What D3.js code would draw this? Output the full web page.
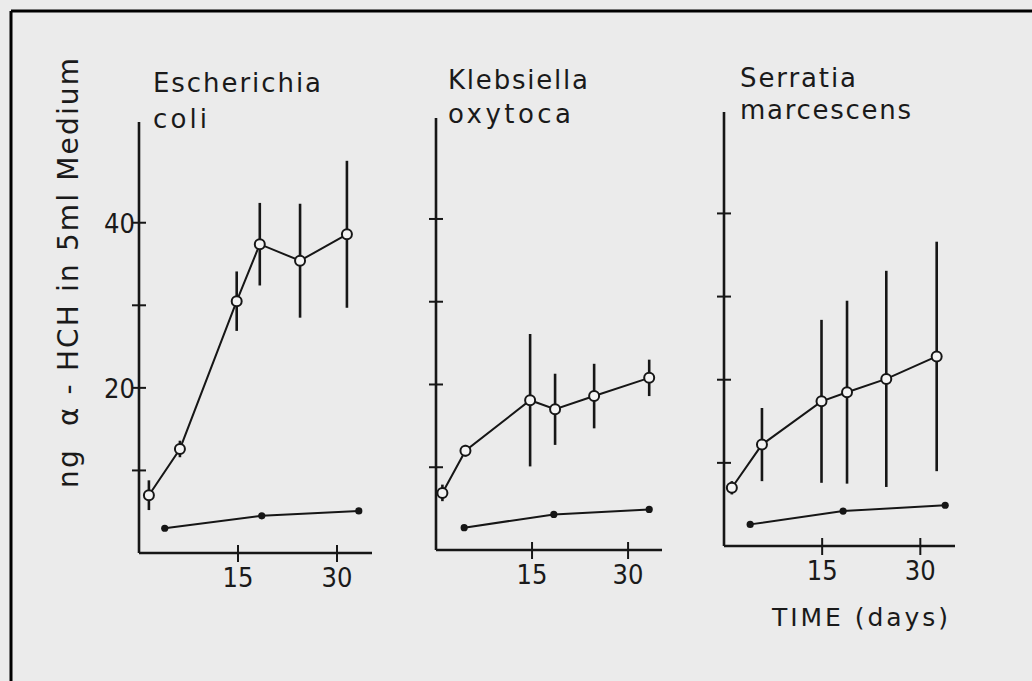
<!DOCTYPE html>
<html><head><meta charset="utf-8">
<script src="https://cdn.jsdelivr.net/npm/d3@7/dist/d3.min.js"></script>
<style>
html,body{margin:0;padding:0;background:#ebebeb;}
svg{display:block}
text{font-family:"DejaVu Sans",sans-serif;fill:#1a1a1a;}
text.num{font-family:"DejaVu Sans Condensed","DejaVu Sans",sans-serif;}
</style>
</head><body>
<svg id="c" width="1032" height="681"></svg>
<script>
// ---------- data ----------
const speciesTitles = [["Escherichia", "coli"], ["Klebsiella", "oxytoca"], ["Serratia", "marcescens"]];
const xTickValues = [15, 30];
const xTickLabels = ["15", "30"];
const yTickValues = [10, 20, 30, 40];
const yTickLabels = ["", "20", "", "40"];
const yAxisTitle = "ng  \u03b1 - HCH in 5ml Medium";
const xAxisTitle = "TIME (days)";

// Escherichia coli (open circles: inoculated, mean ± error; filled: control)
const ecoliDays = [1.5, 6.2, 14.8, 18.3, 24.4, 31.5];
const ecoliMean = [7.0, 12.6, 30.5, 37.4, 35.4, 38.6];
const ecoliErr = [1.8, 1.0, 3.6, 5.0, 6.9, 8.9];
const ecoliCtrlDays = [3.9, 18.6, 33.3];
const ecoliCtrl = [3.0, 4.5, 5.1];

// Klebsiella oxytoca
const klebDays = [1.0, 4.6, 14.7, 18.6, 24.7, 33.3];
const klebMean = [6.9, 12.0, 18.1, 17.0, 18.6, 20.8];
const klebErr = [1.0, 0.7, 8.0, 4.3, 3.9, 2.2];
const klebCtrlDays = [4.4, 18.4, 33.3];
const klebCtrl = [2.7, 4.3, 4.9];

// Serratia marcescens
const serrDays = [1.2, 5.8, 14.9, 18.8, 24.8, 32.5];
const serrMean = [7.0, 12.2, 17.4, 18.5, 20.1, 22.8];
const serrErr = [0.8, 4.4, 9.8, 11.0, 13.0, 13.8];
const serrCtrlDays = [4.0, 18.2, 33.8];
const serrCtrl = [2.6, 4.2, 4.9];

const xDomain = [0, 35.3];
const yDomain = [0, 52.2];

// ---------- layout ----------
const panels = [
  {days: ecoliDays, mean: ecoliMean, err: ecoliErr, cDays: ecoliCtrlDays, ctrl: ecoliCtrl,
   box: {left: 139, right: 372, top: 122, bottom: 553}, title: {x: 153, y: 92, y2: 128, w1: 168, w2: 54}, labels: true},
  {days: klebDays, mean: klebMean, err: klebErr, cDays: klebCtrlDays, ctrl: klebCtrl,
   box: {left: 436, right: 662, top: 118, bottom: 550}, title: {x: 448, y: 89, y2: 123, w1: 140, w2: 123}, labels: false},
  {days: serrDays, mean: serrMean, err: serrErr, cDays: serrCtrlDays, ctrl: serrCtrl,
   box: {left: 724, right: 955, top: 112, bottom: 546}, title: {x: 740, y: 87, y2: 119, w1: 116, w2: 171}, labels: false}
];

const svg = d3.select("#c");
svg.append("rect").attr("width", 1032).attr("height", 681).attr("fill", "#ebebeb");
// frame (top and left edges)
svg.append("line").attr("x1", 11).attr("x2", 1032).attr("y1", 11).attr("y2", 11).attr("stroke", "#000").attr("stroke-width", 3);
svg.append("line").attr("x1", 11).attr("x2", 11).attr("y1", 11).attr("y2", 681).attr("stroke", "#000").attr("stroke-width", 3);

const ink = "#161616";

panels.forEach((p, i) => {
  const b = p.box;
  const x = d3.scaleLinear().domain(xDomain).range([b.left, b.right]);
  const y = d3.scaleLinear().domain(yDomain).range([b.bottom, b.top]);
  const g = svg.append("g");

  // titles
  g.append("text").attr("x", p.title.x).attr("y", p.title.y).attr("font-size", 26)
    .attr("textLength", p.title.w1).attr("lengthAdjust", "spacing").text(speciesTitles[i][0]);
  g.append("text").attr("x", p.title.x).attr("y", p.title.y2).attr("font-size", 26)
    .attr("textLength", p.title.w2).attr("lengthAdjust", "spacing").text(speciesTitles[i][1]);

  // axes lines
  g.append("line").attr("x1", x(0)).attr("x2", x(0)).attr("y1", y(yDomain[1])).attr("y2", y(0))
    .attr("stroke", ink).attr("stroke-width", 2.6);
  g.append("line").attr("x1", x(0)).attr("x2", x(xDomain[1])).attr("y1", y(0)).attr("y2", y(0))
    .attr("stroke", ink).attr("stroke-width", 2.6);

  // y ticks (crossing)
  g.selectAll(".yt").data(yTickValues).enter().append("line")
    .attr("x1", x(0) - 7).attr("x2", x(0) + 7)
    .attr("y1", d => y(d)).attr("y2", d => y(d))
    .attr("stroke", ink).attr("stroke-width", 2);
  if (p.labels) {
    g.selectAll(".yl").data(yTickValues).enter().append("text").attr("class", "num")
      .attr("x", x(0) - 4).attr("y", d => y(d) + 10)
      .attr("text-anchor", "end").attr("font-size", 27)
      .text((d, k) => yTickLabels[k]);
  }
  // x ticks (crossing)
  g.selectAll(".xt").data(xTickValues).enter().append("line")
    .attr("x1", d => x(d)).attr("x2", d => x(d))
    .attr("y1", y(0) - 8).attr("y2", y(0) + 9)
    .attr("stroke", ink).attr("stroke-width", 2);
  g.selectAll(".xl").data(xTickValues).enter().append("text").attr("class", "num")
    .attr("x", d => x(d)).attr("y", y(0) + 34)
    .attr("text-anchor", "middle").attr("font-size", 27)
    .text((d, k) => xTickLabels[k]);

  // error bars
  const pts = p.days.map((d, k) => ({d, m: p.mean[k], e: p.err[k]}));
  g.selectAll(".eb").data(pts).enter().append("line")
    .attr("x1", o => x(o.d)).attr("x2", o => x(o.d))
    .attr("y1", o => y(o.m + o.e)).attr("y2", o => y(o.m - o.e))
    .attr("stroke", ink).attr("stroke-width", 2.6);

  // mean line
  const line = d3.line().x(o => x(o.d)).y(o => y(o.m));
  g.append("path").datum(pts).attr("d", line).attr("fill", "none")
    .attr("stroke", ink).attr("stroke-width", 2);
  g.selectAll(".oc").data(pts).enter().append("circle")
    .attr("cx", o => x(o.d)).attr("cy", o => y(o.m)).attr("r", 5)
    .attr("fill", "#f4f4f4").attr("stroke", ink).attr("stroke-width", 2);

  // control line
  const cpts = p.cDays.map((d, k) => ({d, m: p.ctrl[k]}));
  g.append("path").datum(cpts).attr("d", line).attr("fill", "none")
    .attr("stroke", ink).attr("stroke-width", 2);
  g.selectAll(".fc").data(cpts).enter().append("circle")
    .attr("cx", o => x(o.d)).attr("cy", o => y(o.m)).attr("r", 3.6)
    .attr("fill", ink);
});

// axis titles
svg.append("text").attr("transform", "translate(78,273) rotate(-90)")
  .attr("text-anchor", "middle").attr("font-size", 28)
  .attr("textLength", 430).attr("lengthAdjust", "spacing")
  .style("white-space", "pre").text(yAxisTitle);
svg.append("text").attr("x", 772).attr("y", 626).attr("font-size", 25)
  .attr("textLength", 176).attr("lengthAdjust", "spacing")
  .style("white-space", "pre").text(xAxisTitle);
</script>
</body></html>
